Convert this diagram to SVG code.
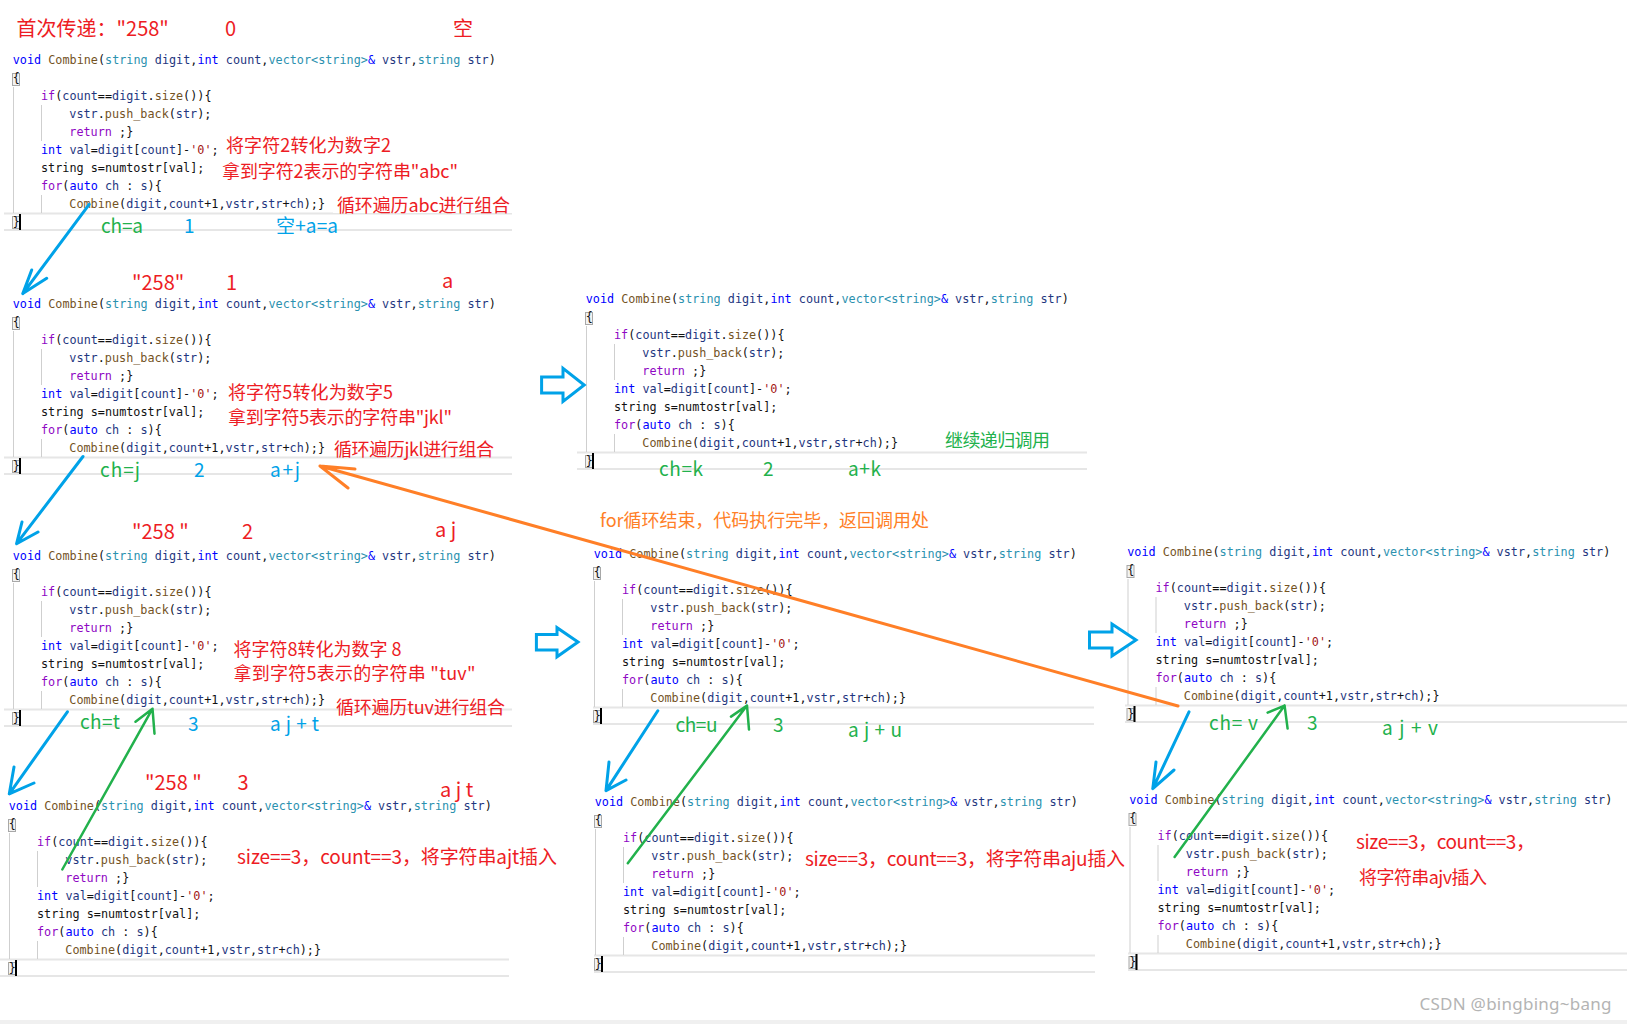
<svg xmlns="http://www.w3.org/2000/svg" width="1627" height="1024" viewBox="0 0 1627 1024">
<style>
.code{font-family:"DejaVu Sans Mono","Liberation Mono",monospace;font-size:11.8px;fill:#111}
.k{fill:#0000ff}
.c{fill:#8f08c4}
.f{fill:#74531f}
.t{fill:#2b91af}
.p{fill:#1f377f}
.s{fill:#a31515}
.ann{font-family:"Noto Sans CJK SC","Noto Sans",sans-serif;font-size:18px}
.big{font-size:20px}
.mid{font-size:19px}
.red{fill:#ed1c24}
.grn{fill:#22b14c}
.blu{fill:#00a2e8}
.org{fill:#ff7f27}
.guide{stroke:#cfcfcf;stroke-width:1;fill:none}
.hl{stroke:#e6e6e6;stroke-width:2;fill:none}
.bbox{fill:#f2f2f2;stroke:#a8a8a8;stroke-width:1}
.lb{stroke:#00a2e8;stroke-width:3;fill:none;stroke-linecap:round;stroke-linejoin:round}
.lg{stroke:#22b14c;stroke-width:2.5;fill:none;stroke-linecap:round;stroke-linejoin:round}
.lo{stroke:#ff7f27;stroke-width:3;fill:none;stroke-linecap:round;stroke-linejoin:round}
.blk{fill:#fff;stroke:#00a2e8;stroke-width:3}
</style>
<defs>
<g id="code">
<path class="guide" d="M13.5,87V213M41.5,105V141M41.5,195V213"/>
<rect class="bbox" x="12.5" y="73.5" width="7" height="12"/>
<rect class="bbox" x="12.5" y="216.5" width="7" height="12"/>
<text class="code" x="12.7" y="64"><tspan class="k">void</tspan> <tspan class="f">Combine</tspan>(<tspan class="t">string</tspan> <tspan class="p">digit</tspan>,<tspan class="k">int</tspan> <tspan class="p">count</tspan>,<tspan class="t">vector&lt;string&gt;</tspan><tspan class="k">&amp;</tspan> <tspan class="p">vstr</tspan>,<tspan class="t">string</tspan> <tspan class="p">str</tspan>)</text>
<text class="code" x="12.7" y="82">{</text>
<text class="code" x="41" y="100"><tspan class="c">if</tspan>(<tspan class="p">count</tspan>==<tspan class="p">digit</tspan>.<tspan class="f">size</tspan>()){</text>
<text class="code" x="69.3" y="118"><tspan class="p">vstr</tspan>.<tspan class="f">push_back</tspan>(<tspan class="p">str</tspan>);</text>
<text class="code" x="69.3" y="136"><tspan class="c">return</tspan> ;}</text>
<text class="code" x="41" y="154"><tspan class="k">int</tspan> <tspan class="p">val</tspan>=<tspan class="p">digit</tspan>[<tspan class="p">count</tspan>]-<tspan class="s">'0'</tspan>;</text>
<text class="code" x="41" y="172">string s=numtostr[val];</text>
<text class="code" x="41" y="190"><tspan class="c">for</tspan>(<tspan class="k">auto</tspan> <tspan class="p">ch</tspan> : <tspan class="p">s</tspan>){</text>
<text class="code" x="69.3" y="208"><tspan class="f">Combine</tspan>(<tspan class="p">digit</tspan>,<tspan class="p">count</tspan>+1,<tspan class="p">vstr</tspan>,<tspan class="p">str</tspan>+<tspan class="p">ch</tspan>);}</text>
<text class="code" x="12.7" y="226">}</text>
<rect x="19" y="214" width="2" height="16" fill="#000"/>
</g>
</defs>
<rect width="1627" height="1024" fill="#fff"/>
<rect x="0" y="1020" width="1627" height="4" fill="#f0f0f0"/>

<g id="call1">
<path class="hl" d="M4,213.5H512M4,230H512"/>
<use href="#code"/>
<text class="ann big red" x="16.6" y="36">首次传递：&quot;258&quot;</text>
<text class="ann big red" x="225" y="36">0</text>
<text class="ann big red" x="453" y="36">空</text>
<text class="ann red" x="226" y="152" textLength="165">将字符2转化为数字2</text>
<text class="ann red" x="222" y="178" textLength="236">拿到字符2表示的字符串&quot;abc&quot;</text>
<rect x="333" y="195" width="180" height="18" fill="#fff"/>
<text class="ann red" x="337" y="212" textLength="173">循环遍历abc进行组合</text>
<text class="ann mid grn" x="101" y="233" textLength="42">ch=a</text>
<text class="ann mid blu" x="184" y="233">1</text>
<text class="ann mid blu" x="276" y="233" textLength="62">空+a=a</text>
</g>

<g id="call2">
<path class="hl" d="M4,457.5H512M4,474H512"/>
<use href="#code" transform="translate(0,244)"/>
<text class="ann big red" x="132" y="290">&quot;258&quot;</text>
<text class="ann big red" x="226" y="290">1</text>
<text class="ann big red" x="442" y="288">a</text>
<text class="ann red" x="228" y="399" textLength="165">将字符5转化为数字5</text>
<text class="ann red" x="228" y="424" textLength="224">拿到字符5表示的字符串&quot;jkl&quot;</text>
<text class="ann red" x="334" y="456" textLength="160">循环遍历jkl进行组合</text>
<text class="ann mid grn" x="100" y="477" textLength="40">ch=j</text>
<text class="ann mid blu" x="194" y="477">2</text>
<text class="ann mid blu" x="270" y="477" textLength="30">a+j</text>
</g>

<g id="call3">
<path class="hl" d="M4,709.5H512M4,726H512"/>
<use href="#code" transform="translate(0,496)"/>
<text class="ann big red" x="132" y="539">&quot;258 &quot;</text>
<text class="ann big red" x="242" y="539">2</text>
<text class="ann big red" x="435" y="537">a j</text>
<text class="ann red" x="233.5" y="655.5" textLength="168">将字符8转化为数字 8</text>
<text class="ann red" x="233.5" y="680" textLength="242">拿到字符5表示的字符串 &quot;tuv&quot;</text>
<text class="ann red" x="336" y="713.5" textLength="169">循环遍历tuv进行组合</text>
<text class="ann mid grn" x="80" y="729" textLength="40">ch=t</text>
<text class="ann mid blu" x="188" y="731">3</text>
<text class="ann mid blu" x="270" y="731" textLength="49">a j + t</text>
</g>

<g id="call4">
<path class="hl" d="M0,959.5H509M0,976H509"/>
<use href="#code" transform="translate(-4,746)"/>
<text class="ann big red" x="145" y="790">&quot;258 &quot;</text>
<text class="ann big red" x="237.6" y="790">3</text>
<text class="ann big red" x="440" y="797">a j t</text>
<text class="ann mid red" x="237" y="864" textLength="320">size==3，count==3，将字符串ajt插入</text>
</g>

<g id="call5">
<path class="hl" d="M577,452.5H1087M577,469H1087"/>
<use href="#code" transform="translate(573,239)"/>
<text class="ann grn" x="945" y="447" textLength="105">继续递归调用</text>
<text class="ann mid grn" x="659" y="475.5" textLength="44">ch=k</text>
<text class="ann mid grn" x="763" y="475.5">2</text>
<text class="ann mid grn" x="848" y="475.5" textLength="33">a+k</text>
</g>

<g id="call6">
<path class="hl" d="M593,707.5H1094M593,724H1094"/>
<use href="#code" transform="translate(581,494)"/>
<text class="ann mid grn" x="675.5" y="732" textLength="42">ch=u</text>
<text class="ann mid grn" x="773" y="732">3</text>
<text class="ann mid grn" x="848" y="737" textLength="54">a j + u</text>
</g>

<g id="call7">
<path class="hl" d="M594,955.5H1095M594,972H1095"/>
<use href="#code" transform="translate(582,742)"/>
<text class="ann mid red" x="805" y="866" textLength="320">size==3，count==3，将字符串aju插入</text>
</g>

<g id="call8">
<path class="hl" d="M1125,705.5H1627M1125,722H1627"/>
<use href="#code" transform="translate(1114.5,492)"/>
<text class="ann mid grn" x="1209" y="729.5" textLength="49">ch= v</text>
<text class="ann mid grn" x="1307" y="729.5">3</text>
<text class="ann mid grn" x="1382" y="734.5" textLength="56">a j + v</text>
</g>

<g id="call9">
<path class="hl" d="M1128,953.5H1627M1128,970H1627"/>
<use href="#code" transform="translate(1116.5,740)"/>
<text class="ann mid red" x="1356" y="848.5" textLength="179">size==3，count==3，</text>
<text class="ann red" x="1359" y="884" textLength="128">将字符串ajv插入</text>
</g>

<g id="connectors">
<path class="blk" d="M541.6,377H563V368.3L584.2,385L563,401.5V393H541.6Z"/>
<path class="blk" d="M536.4,634.5H557V627.7L578,642L557,656.8V650H536.4Z"/>
<path class="blk" d="M1089.5,632H1112V624L1136,640L1112,656V648H1089.5Z"/>
<path class="lb" d="M89.2,204.4L22.8,293.6M22.8,293.6L31.7,270M22.8,293.6L46.7,278.3"/>
<path class="lb" d="M83,456.5L16.6,543.7M16.6,543.7L22,522M16.6,543.7L38,532"/>
<path class="lb" d="M67.4,711.8L9.3,793.8M9.3,793.8L14,767M9.3,793.8L34,783"/>
<path class="lb" d="M657.8,710.8L606,790.6M606,790.6L609,762M606,790.6L626,780"/>
<path class="lb" d="M1189,711.8L1152.8,788.6M1152.8,788.6L1156,762M1152.8,788.6L1174,770"/>
<path class="lg" d="M62.3,869.5L152.5,708.7M152.5,708.7L154.5,733.7M152.5,708.7L135.5,721.7"/>
<path class="lg" d="M627.8,863.3L747,705.6M747,705.6L749,729.6M747,705.6L731,716.6"/>
<path class="lg" d="M1174.6,857L1284.6,705.6M1284.6,705.6L1287.6,728.6M1284.6,705.6L1267.6,712.6"/>
<path class="lo" d="M1178,706L320,466M320,466L355,469M320,466L348,488"/>
<text class="ann org" x="600" y="527" textLength="329">for循环结束，代码执行完毕，返回调用处</text>
</g>

<text x="1419.5" y="1010" font-family="Noto Sans, Liberation Sans, sans-serif" font-size="17" fill="#b4b4b4" textLength="192">CSDN @bingbing~bang</text>
</svg>
